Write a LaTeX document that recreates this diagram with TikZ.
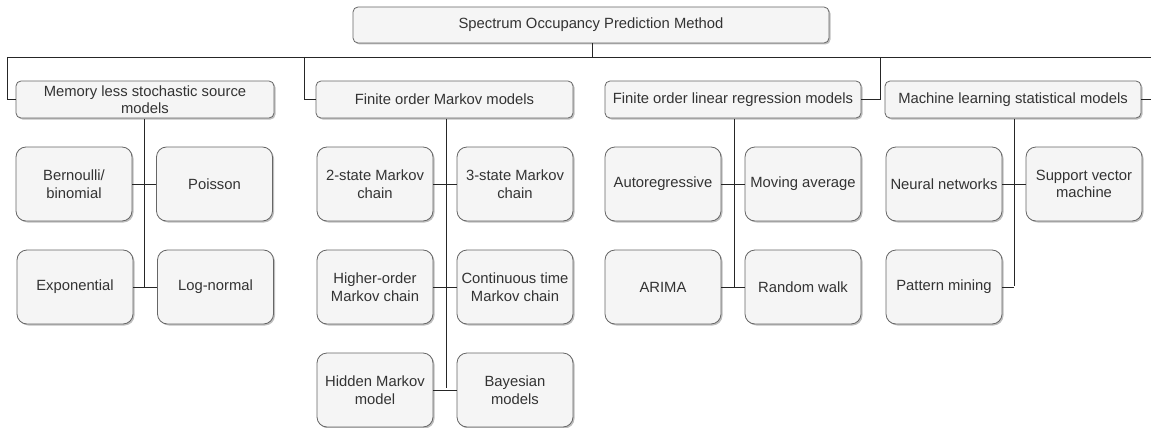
\documentclass[tikz,border=0pt]{standalone}
\usepackage{fontspec}
\setmainfont{Liberation Sans}
\usetikzlibrary{shadows}
\definecolor{boxfill}{HTML}{F5F5F5}
\definecolor{boxline}{HTML}{666666}
\definecolor{txt}{HTML}{333333}
\tikzset{
  base/.style={draw=boxline, fill=boxfill, line width=0.8pt, text=txt, align=center,
    font=\fontsize{14.8}{17.5}\selectfont, inner sep=0pt,
    drop shadow={shadow xshift=1.5pt, shadow yshift=-1.5pt, fill=black, opacity=0.25}},
  lvlone/.style={base, rounded corners=5pt, minimum height=37pt},
  leaf/.style={base, rounded corners=10pt, minimum width=116pt, minimum height=74pt},
  conn/.style={draw=black!85, line width=0.9pt}
}
\begin{document}
\begin{tikzpicture}[x=1pt,y=-1pt]
\useasboundingbox (0,0) rectangle (1151,428);
% root
\node[lvlone, minimum width=476pt, minimum height=36pt] (top) at (591,25) {Spectrum Occupancy Prediction Method};
% level one
\node[lvlone, minimum width=258pt] (mem) at (145,99.5) {Memory less stochastic source\\models};
\node[lvlone, minimum width=257pt] (mkv) at (444.5,99.5) {Finite order Markov models};
\node[lvlone, minimum width=256pt] (lin) at (733,99.5) {Finite order linear regression models};
\node[lvlone, minimum width=256pt] (ml) at (1013,99.5) {Machine learning statistical models};
% leaves: memoryless
\node[leaf] (bern) at (74,184) {Bernoulli/\\binomial};
\node[leaf] (poi) at (214.5,184) {Poisson};
\node[leaf] (expo) at (75,287) {Exponential};
\node[leaf] (logn) at (215.5,287) {Log-normal};
% leaves: markov
\node[leaf] (two) at (375,184) {2-state Markov\\chain};
\node[leaf] (three) at (515,184) {3-state Markov\\chain};
\node[leaf] (high) at (375,287) {Higher-order\\Markov chain};
\node[leaf] (cont) at (515,287) {Continuous time\\Markov chain};
\node[leaf] (hid) at (375,390) {Hidden Markov\\model};
\node[leaf] (bay) at (515,390) {Bayesian\\models};
% leaves: linear regression
\node[leaf] (ar) at (663,184) {Autoregressive};
\node[leaf] (ma) at (803,184) {Moving average};
\node[leaf] (arima) at (663,287) {ARIMA};
\node[leaf] (rw) at (803,287) {Random walk};
% leaves: machine learning
\node[leaf] (nn) at (944,184) {Neural networks};
\node[leaf] (svm) at (1084,184) {Support vector\\machine};
\node[leaf] (pm) at (944,287) {Pattern mining};
% bar coordinates
\coordinate (barL) at (7,57);
\coordinate (barR) at (1151,57);
\coordinate (tapT) at (592,57);
\coordinate (tapM) at (304,57);
\coordinate (tapL) at (880,57);
\coordinate (mlR) at (1151,99.5);
\coordinate (vm) at (144,118.5);
\coordinate (vk) at (446,118.5);
\coordinate (vl) at (734,118.5);
\coordinate (vn) at (1014,118.5);
% connectors
\draw[conn] (top.south -| tapT) -- (tapT);
\draw[conn] (barL) -- (barR);
\draw[conn] (barL) |- (mem.west);
\draw[conn] (tapM) |- (mkv.west);
\draw[conn] (tapL) |- (lin.east);
\draw[conn] (ml.east) -- (mlR);
% memoryless
\draw[conn] (vm) -- (vm |- logn.west);
\draw[conn] (bern.east) -- (poi.west);
\draw[conn] (expo.east) -- (logn.west);
% markov
\draw[conn] (vk) -- ([yshift=2pt]vk |- bay.west);
\draw[conn] (two.east) -- (three.west);
\draw[conn] (high.east) -- (cont.west);
\draw[conn] (hid.east) -- (bay.west);
% linear
\draw[conn] (vl) -- (vl |- rw.west);
\draw[conn] (ar.east) -- (ma.west);
\draw[conn] (arima.east) -- (rw.west);
% ml
\draw[conn] (vn) -- ([yshift=1pt]vn |- pm.east);
\draw[conn] (nn.east) -- (svm.west);
\draw[conn] (pm.east) -- (vn |- pm.east);
\end{tikzpicture}
\end{document}
